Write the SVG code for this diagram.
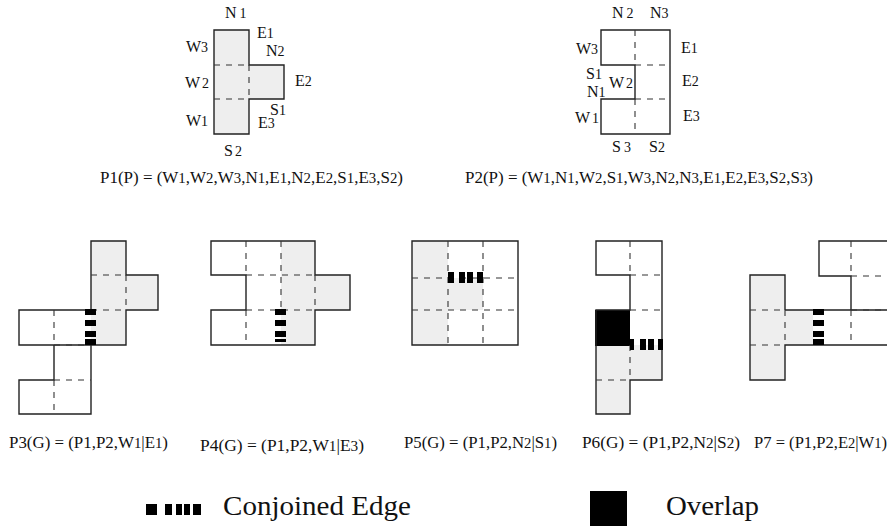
<svg xmlns="http://www.w3.org/2000/svg" width="887" height="526" viewBox="0 0 887 526">
<style>
text{font-family:"Liberation Serif","Times New Roman",serif;font-size:16px;fill:#111}
tspan{font-size:14px}
.leg{font-size:28px}
.fill{fill:#eee;stroke:none}
.out{fill:none;stroke:#222;stroke-width:1.4}
.dash{fill:none;stroke:#333;stroke-width:1.1;stroke-dasharray:6 6}
.blk{fill:#000;stroke:none}
</style>
<g id="connectors"></g>
<g id="P1">
<path class="fill" d="M214 30H249V65H284V99H249V134H214Z"/>
<path class="out" d="M214 30H249V65H284V99H249V134H214Z"/>
<path class="dash" d="M214 65H249M214 99H249M249 65V99"/>
<text x="225" y="18">N<tspan dx="3">1</tspan></text>
<text x="257" y="38">E<tspan>1</tspan></text>
<text x="266" y="56">N<tspan>2</tspan></text>
<text x="186" y="52">W<tspan>3</tspan></text>
<text x="185" y="88">W<tspan dx="2">2</tspan></text>
<text x="295" y="86">E<tspan>2</tspan></text>
<text x="270" y="115">S<tspan>1</tspan></text>
<text x="258" y="128">E<tspan>3</tspan></text>
<text x="186" y="126">W<tspan>1</tspan></text>
<text x="224" y="156">S<tspan dx="2">2</tspan></text>
<text x="100" y="183" textLength="303" lengthAdjust="spacingAndGlyphs">P1(P) = (W<tspan>1</tspan>,W<tspan>2</tspan>,W<tspan>3</tspan>,N<tspan>1</tspan>,E<tspan>1</tspan>,N<tspan>2</tspan>,E<tspan>2</tspan>,S<tspan>1</tspan>,E<tspan>3</tspan>,S<tspan>2</tspan>)</text>
</g>
<g id="P2">
<path class="out" d="M601 30H670V134H601V99H635V65H601Z"/>
<path class="dash" d="M635 30V65M635 99V134M635 65H670M635 99H670"/>
<text x="612" y="18">N<tspan dx="3">2</tspan></text>
<text x="650" y="18">N<tspan>3</tspan></text>
<text x="576" y="54">W<tspan>3</tspan></text>
<text x="681" y="53">E<tspan>1</tspan></text>
<text x="586" y="79">S<tspan>1</tspan></text>
<text x="609" y="88">W<tspan dx="2">2</tspan></text>
<text x="682" y="86">E<tspan>2</tspan></text>
<text x="587" y="97">N<tspan>1</tspan></text>
<text x="575" y="123">W<tspan dx="2">1</tspan></text>
<text x="683" y="121">E<tspan>3</tspan></text>
<text x="612" y="152">S<tspan dx="3">3</tspan></text>
<text x="649" y="152">S<tspan>2</tspan></text>
<text x="465" y="183" textLength="348" lengthAdjust="spacingAndGlyphs">P2(P) = (W<tspan>1</tspan>,N<tspan>1</tspan>,W<tspan>2</tspan>,S<tspan>1</tspan>,W<tspan>3</tspan>,N<tspan>2</tspan>,N<tspan>3</tspan>,E<tspan>1</tspan>,E<tspan>2</tspan>,E<tspan>3</tspan>,S<tspan>2</tspan>,S<tspan>3</tspan>)</text>
</g>
<g id="P3">
<path class="fill" d="M91 241H126V275H158V310H126V345H91Z"/>
<path class="out" d="M91 310V241H126V275H158V310H126V345H54V380H19V414H91V345M54 345H19V310H91"/>
<path class="dash" d="M54 310V345M54 345H91M54 380H91M54 380V414M91 275H126M91 310H126M126 275V310"/>
<path class="blk" d="M85 309h11v6h-11zM85 320h11v6h-11zM85 331h11v6h-11zM85 339h11v6h-11z"/>
<text x="9" y="448" textLength="159" lengthAdjust="spacingAndGlyphs">P3(G) = (P1,P2,W<tspan>1</tspan>|E<tspan>1</tspan>)</text>
</g>
<g id="P4">
<path class="fill" d="M281 241H315V275H350V310H315V345H281Z"/>
<path class="out" d="M211 241H315V275H350V310H315V345H211V310H246V275H211Z"/>
<path class="dash" d="M246 241V275M281 241V310M246 275H315M246 310H315M315 275V310M246 310V345"/>
<path class="blk" d="M275 309h11v6h-11zM275 320h11v6h-11zM275 331h11v6h-11zM275 339h11v3h-11z"/>
<text x="200" y="451" textLength="164" lengthAdjust="spacingAndGlyphs">P4(G) = (P1,P2,W<tspan>1</tspan>|E<tspan>3</tspan>)</text>
</g>
<g id="P5">
<path class="fill" d="M412 241H448V278H483V310H448V345H412Z"/>
<path class="out" d="M412 345V241H518V345Z"/>
<path class="dash" d="M448 241V345M483 241V345M412 278H518M412 310H518"/>
<path class="blk" d="M448 272h6v11h-6zM459 272h6v11h-6zM467 272h6v11h-6zM477 272h6v11h-6z"/>
<text x="404" y="448" textLength="153" lengthAdjust="spacingAndGlyphs">P5(G) = (P1,P2,N<tspan>2</tspan>|S<tspan>1</tspan>)</text>
</g>
<g id="P6">
<path class="fill" d="M596 345H662V380H630V414H596Z"/>
<path class="blk" d="M595 310H630V346H595Z"/>
<path class="out" d="M630 275H596V241H662V380H630V414H596V310H630Z"/>
<path class="dash" d="M630 241V275M630 275H662M630 310H662M630 345V380M596 380H630"/>
<path class="blk" d="M630 339h4v11h-4zM640 339h6v11h-6zM648 339h6v11h-6zM658 339h5v11h-5z"/>
<text x="582" y="448" textLength="158" lengthAdjust="spacingAndGlyphs">P6(G) = (P1,P2,N<tspan>2</tspan>|S<tspan>2</tspan>)</text>
</g>
<g id="P7">
<path class="fill" d="M750 275H785V310H813V345H785V380H750Z"/>
<path class="out" d="M887 241H819V276H851V310M785 310H887M887 345H785V380H750V275H785V310"/>
<path class="dash" d="M851 241V276M851 276H887M851 310H887M851 310V345M750 310H785M750 345H785M785 310V345"/>
<path class="blk" d="M813 309h11v6h-11zM813 320h11v6h-11zM813 331h11v6h-11zM813 339h11v6h-11z"/>
<text x="754" y="448" textLength="133" lengthAdjust="spacingAndGlyphs">P7 = (P1,P2,E<tspan>2</tspan>|W<tspan>1</tspan>)</text>
</g>
<g id="legend">
<path class="blk" d="M146 504h11v11h-11zM165 504h7v11h-7zM176 504h6v11h-6zM184 504h6v11h-6zM193 504h8v11h-8z"/>
<text class="leg" x="223" y="515" textLength="188" lengthAdjust="spacingAndGlyphs">Conjoined Edge</text>
<rect class="blk" x="590" y="491" width="37" height="35"/>
<text class="leg" x="666" y="515" textLength="93" lengthAdjust="spacingAndGlyphs">Overlap</text>
</g>
</svg>
